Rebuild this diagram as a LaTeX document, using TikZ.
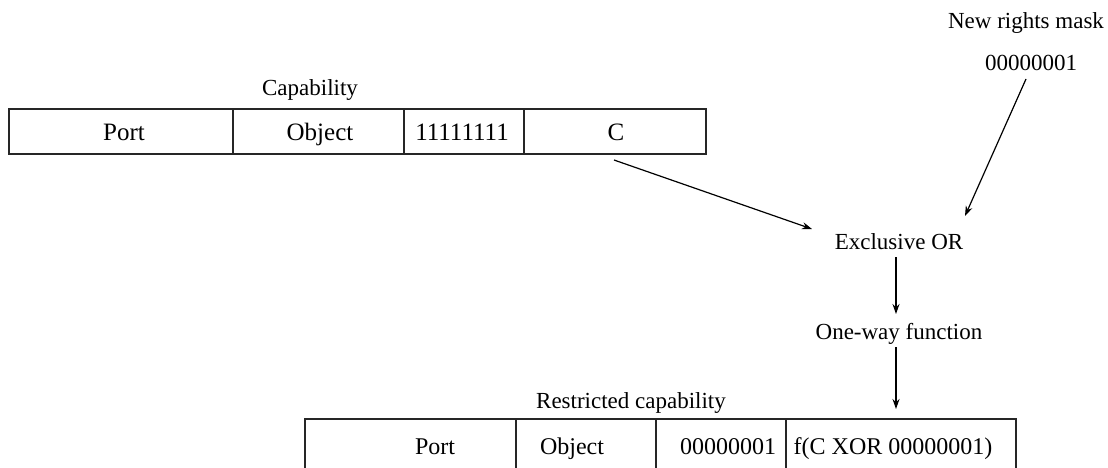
\documentclass[tikz,border=0pt]{standalone}
\usepackage{fontspec}
\setmainfont{Liberation Serif}
\usetikzlibrary{arrows.meta}
\begin{document}
\begin{tikzpicture}[x=1pt,y=-1pt,
  cell/.style={draw=black!85,line width=1.6pt,inner sep=0pt,anchor=north west},
  txt/.style={inner sep=0pt,text height=0.68em,text depth=0.22em,yshift=-5pt},
  lbl/.style={txt,font=\fontsize{23}{27}\selectfont},
  toptxt/.style={txt,font=\fontsize{25}{29}\selectfont},
  bottxt/.style={txt,font=\fontsize{24}{28}\selectfont},
  arr/.style={line width=1.2pt,-{Stealth[length=10pt,width=7pt]}}]
\clip (0,0) rectangle (1108,467);
\fill[white] (0,0) rectangle (1108,467);
% top capability
\node[lbl] (caplbl) at (310,88) {Capability};
\node[cell,minimum width=224pt,minimum height=45pt] (c1) at (8,108) {};
\node[cell,minimum width=171pt,minimum height=45pt] (c2) at (232,108) {};
\node[cell,minimum width=120pt,minimum height=45pt] (c3) at (403,108) {};
\node[cell,minimum width=182pt,minimum height=45pt] (c4) at (523,108) {};
\node[toptxt] (t1) at (124,133) {Port};
\node[toptxt] (t2) at (320,133) {Object};
\node[toptxt] (t3) at (462,133) {11111111};
\node[toptxt] (t4) at (616,133) {C};
% mask
\node[lbl] (nrm) at (1026,21) {New rights mask};
\node[lbl] (mask) at (1031,63) {00000001};
% XOR and one-way
\node[lbl] (xor) at (899,242) {Exclusive OR};
\node[lbl] (owf) at (899,332) {One-way function};
\coordinate (cstart) at (614,160);
\coordinate (xin) at (812,229);
\coordinate (mstart) at (1026,79);
\coordinate (min) at (965,216);
\coordinate (xout) at (896,257);
\coordinate (oin) at (896,314);
\coordinate (oout) at (896,347);
\coordinate (rin) at (896,409);
\draw[arr] (cstart) -- (xin);
\draw[arr] (mstart) -- (min);
\draw[arr] (xout) -- (oin);
\draw[arr] (oout) -- (rin);
% restricted capability
\node[lbl] (rlbl) at (631,401) {Restricted capability};
\node[cell,minimum width=211pt,minimum height=80pt] (r1) at (304,418) {};
\node[cell,minimum width=140pt,minimum height=80pt] (r2) at (515,418) {};
\node[cell,minimum width=130pt,minimum height=80pt] (r3) at (655,418) {};
\node[cell,minimum width=230pt,minimum height=80pt] (r4) at (785,418) {};
\node[bottxt] (b1) at (435,447) {Port};
\node[bottxt] (b2) at (572,447) {Object};
\node[bottxt] (b3) at (728,447) {00000001};
\node[bottxt] (b4) at (893,447) {f(C XOR 00000001)};
\end{tikzpicture}
\end{document}
